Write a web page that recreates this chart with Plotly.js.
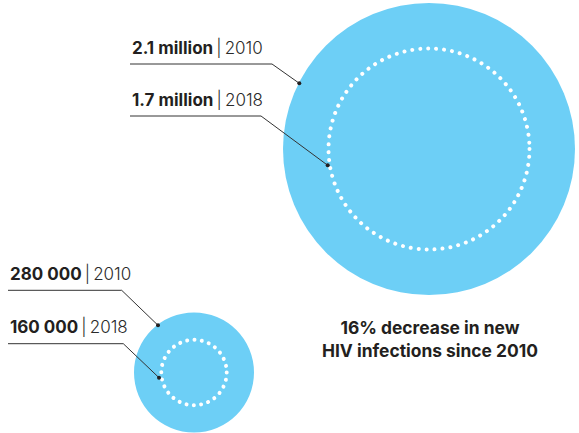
<!DOCTYPE html>
<html>
<head>
<meta charset="utf-8">
<script src="https://cdn.plot.ly/plotly-3.0.1.min.js"></script>
<style>
html,body{margin:0;padding:0;background:#fff;}
#chart{width:579px;height:433px;}
.shapelayer path{stroke-linecap:round;}
</style>
</head>
<body>
<div id="chart"></div>
<script>
// ---- data ----
const groups = ['All ages', 'Children'];
const years = ['2010', '2018'];
const values2010 = [2100000, 280000];
const values2018 = [1700000, 160000];
const labels2010 = ['2.1 million', '280 000'];
const labels2018 = ['1.7 million', '160 000'];
const noteText = ['16% decrease in new', 'HIV infections since 2010'];

// ---- layout geometry (pixel space) ----
const W = 579, H = 433;
const geo = [
  { cx: 429, cy: 149, rOuter: 146, rInner: 100.5, innerPeriod: 8.0,
    lab: [{x: 130, yLine: 64, bend: 272, end: [299.3, 83.3]},
          {x: 130, yLine: 116, bend: 261, end: [327.7, 165.3]}] },
  { cx: 194, cy: 372.5, rOuter: 60, rInner: 32.7, innerPeriod: 7.35,
    lab: [{x: 8, yLine: 290.3, bend: 121.7, end: [158, 325.3]},
          {x: 8, yLine: 343.7, bend: 123.3, end: [159, 377.7]}] }
];
const BLUE = '#6dcff6';
const INK = '#231f20';
const FONT = 'Inter, Roboto, sans-serif';

const shapes = [];
const traces = [];
const annotations = [];

groups.forEach((g, i) => {
  const G = geo[i];
  shapes.push({type: 'circle', xref: 'x', yref: 'y', layer: 'below',
    x0: G.cx - G.rOuter, x1: G.cx + G.rOuter, y0: G.cy - G.rOuter, y1: G.cy + G.rOuter,
    fillcolor: BLUE, line: {width: 0}});
  shapes.push({type: 'circle', xref: 'x', yref: 'y', layer: 'below',
    x0: G.cx - G.rInner, x1: G.cx + G.rInner, y0: G.cy - G.rInner, y1: G.cy + G.rInner,
    fillcolor: 'rgba(0,0,0,0)',
    line: {color: '#ffffff', width: 4, dash: '0.01px,' + (G.innerPeriod - 0.01) + 'px'}});

  const labs = [labels2010[i], labels2018[i]];
  const vals = [values2010[i], values2018[i]];
  G.lab.forEach((L, j) => {
    traces.push({
      type: 'scatter', mode: 'lines', hoverinfo: 'skip', showlegend: false,
      x: [L.x, L.bend, L.end[0]], y: [L.yLine, L.yLine, L.end[1]],
      line: {color: '#333333', width: 1}
    });
    traces.push({
      type: 'scatter', mode: 'markers', hoverinfo: 'skip', showlegend: false,
      x: [L.end[0]], y: [L.end[1]], customdata: [vals[j]],
      marker: {color: INK, size: 4}
    });
    annotations.push({
      xref: 'x', yref: 'y', x: L.x, y: L.yLine - 17, xanchor: 'left', yanchor: 'middle',
      showarrow: false,
      text: '<b>' + labs[j] + '</b><span style="font-weight:300;color:#2a2a2a">\u2009|\u2009' + years[j] + '</span>',
      font: {family: FONT, size: 17, color: INK}
    });
  });
});

annotations.push({
  xref: 'x', yref: 'y', x: 430, y: 339, xanchor: 'center', yanchor: 'middle',
  showarrow: false, align: 'center',
  text: '<b>' + noteText.join('<br>') + '</b>',
  font: {family: FONT, size: 17.4, color: INK}
});

const layout = {
  width: W, height: H,
  margin: {l: 0, r: 0, t: 0, b: 0, pad: 0},
  paper_bgcolor: '#ffffff', plot_bgcolor: '#ffffff',
  xaxis: {range: [0, W], visible: false, fixedrange: true},
  yaxis: {range: [H, 0], visible: false, fixedrange: true},
  shapes: shapes, annotations: annotations, showlegend: false
};

Plotly.newPlot('chart', traces, layout, {displayModeBar: false, staticPlot: true});
</script>
</body>
</html>
